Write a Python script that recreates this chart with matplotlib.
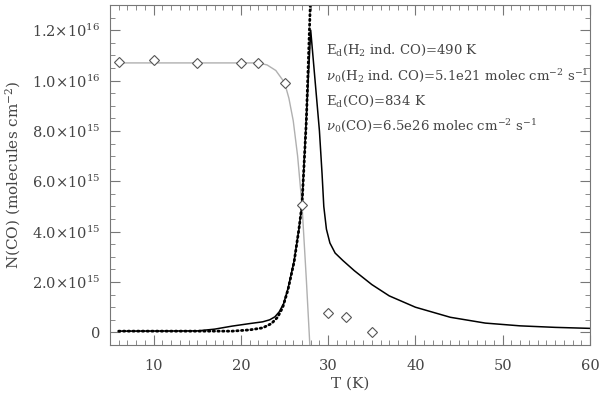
import numpy as np
import matplotlib
matplotlib.use('Agg')
import matplotlib.pyplot as plt
from matplotlib.ticker import MultipleLocator, FuncFormatter

plt.rcParams['font.family'] = ['DejaVu Serif']
plt.rcParams['mathtext.fontset'] = 'dejavuserif'

# measured points (diamonds)
t_obs = [6, 10, 15, 20, 22, 25, 27, 30, 32, 35]
n_obs = [10.73, 10.82, 10.71, 10.70, 10.69, 9.92, 5.07, 0.79, 0.61, 0.02]  # 1e15

# gray fit
t_fit = [6, 22, 23, 24, 25, 25.5, 26, 26.5, 27, 27.5, 27.9]
n_fit = [10.7, 10.7, 10.62, 10.4, 9.92, 9.3, 8.4, 7.0, 5.07, 2.1, -0.5]

# model (solid)
t_mod = [6, 15, 17, 19, 21, 22.5, 23.3, 23.9, 24.4, 24.9, 25.4, 26.1, 26.65, 27, 28.0,
         28.5, 29.0, 29.3, 29.5, 29.8, 30.2, 30.8, 31.7, 33, 35, 37, 40, 44, 48, 52, 56, 60]
n_mod = [0.05, 0.06, 0.13, 0.25, 0.35, 0.42, 0.5, 0.62, 0.82, 1.15, 1.75, 2.85, 4.1, 5.07, 12.0,
         10.0, 8.0, 6.3, 5.0, 4.1, 3.55, 3.15, 2.85, 2.45, 1.9, 1.45, 1.0, 0.6, 0.37, 0.26, 0.2, 0.16]

# model (dotted)
t_dot = [6, 15, 19, 21, 22.5, 23.5, 24.2, 24.8, 25.4, 26.1, 26.65, 27, 27.5, 28.05]
n_dot = [0.05, 0.05, 0.05, 0.1, 0.18, 0.35, 0.6, 1.0, 1.7, 2.8, 4.1, 5.07, 8.4, 14.0]

labels = [r'E$_{\rm d}$(H$_2$ ind. CO)=490 K',
          r'$\nu_0$(H$_2$ ind. CO)=5.1e21 molec cm$^{-2}$ s$^{-1}$',
          r'E$_{\rm d}$(CO)=834 K',
          r'$\nu_0$(CO)=6.5e26 molec cm$^{-2}$ s$^{-1}$']
label_y = [11.2, 10.15, 9.16, 8.17]

txt = '#444444'
fig = plt.figure(figsize=(6, 3.96), dpi=100)
ax = fig.add_axes([0.1833, 0.1288, 0.8, 0.8586])

sc = 1e15
ax.plot(t_fit, np.array(n_fit) * sc, color='#b0b0b0', lw=1)
ax.plot(t_mod, np.array(n_mod) * sc, color='black', lw=1.1)
ax.plot(t_dot, np.array(n_dot) * sc, color='black', lw=2, ls=(0, (0.5, 1.2)),
        dash_capstyle='round')
ax.plot(t_obs, np.array(n_obs) * sc, 'D', ms=5, mfc='white', mec='#555555', mew=0.8)

for s, yv in zip(labels, label_y):
    ax.text(29.8, yv * sc, s, fontsize=9.5, color=txt, va='center')

ax.set_xlim(5, 60)
ax.set_ylim(-0.5e15, 13.0e15)
ax.xaxis.set_major_locator(MultipleLocator(10))
ax.xaxis.set_minor_locator(MultipleLocator(1))
ax.yaxis.set_major_locator(MultipleLocator(2e15))
ax.yaxis.set_minor_locator(MultipleLocator(5e14))


def fmt(v, pos):
    if abs(v) < 1:
        return '0'
    e = int(np.floor(np.log10(abs(v))))
    m = v / 10 ** e
    return r'%.1f$\times$10$^{%d}$' % (m, e)


ax.yaxis.set_major_formatter(FuncFormatter(fmt))
ax.tick_params(which='both', direction='in', top=True, right=True, colors='#777777',
               labelcolor=txt, labelsize=10.5)
ax.tick_params(which='major', length=7, width=0.8)
ax.tick_params(which='minor', length=3.5, width=0.6)
ax.tick_params(axis='x', which='major', pad=10)
ax.tick_params(axis='y', which='major', pad=7)
for sp in ax.spines.values():
    sp.set_color('#777777')
    sp.set_linewidth(0.8)

ax.set_xlabel('T (K)', fontsize=11, color=txt, labelpad=3)
ax.set_ylabel(r'N(CO) (molecules cm$^{-2}$)', fontsize=11, color=txt, labelpad=6)

fig.savefig('out.png', dpi=100)
